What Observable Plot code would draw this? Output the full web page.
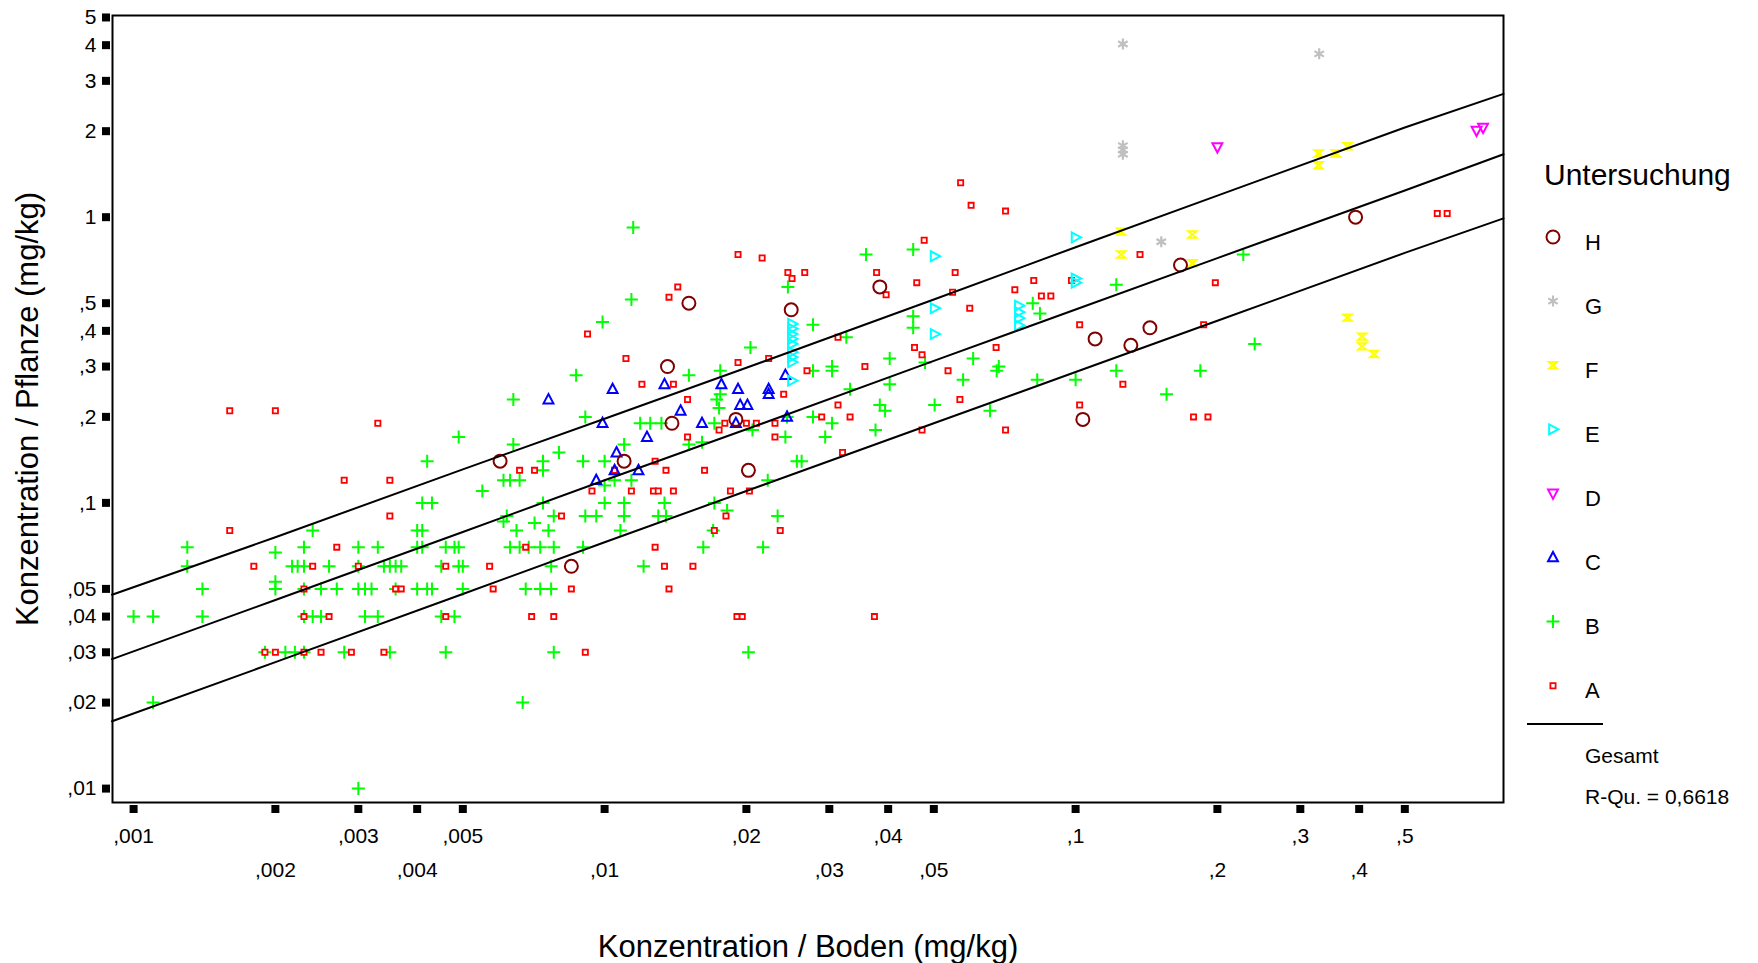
<!DOCTYPE html>
<html><head><meta charset="utf-8">
<script src="https://cdn.jsdelivr.net/npm/d3@7"></script>
<script src="https://cdn.jsdelivr.net/npm/@observablehq/plot@0.6"></script>
<style>
body{margin:0;background:#fff;font-family:"Liberation Sans",Arial,sans-serif;}
#wrap{position:relative;width:1758px;height:963px;overflow:hidden;}
#legend{position:absolute;left:0;top:0;}
</style></head><body><div id="wrap"></div>
<script>
// ---- data (Konzentration Boden [mg/kg], Konzentration Pflanze [mg/kg]) ----
const groupA = [
[0.0016,0.21],[0.002,0.21],[0.0033,0.19],[0.0028,0.12],[0.0035,0.12],[0.0035,0.09],[0.0016,0.08],[0.0027,0.07],[0.0018,0.06],[0.0024,0.06],[0.003,0.06],[0.0046,0.06],[0.0023,0.05],[0.0036,0.05],[0.0037,0.05],[0.0023,0.04],[0.0026,0.04],[0.0046,0.04],[0.0019,0.03],[0.002,0.03],[0.0023,0.03],[0.0025,0.03],[0.0029,0.03],[0.0034,0.03],
[0.012,0.26],[0.014,0.26],[0.015,0.23],[0.024,0.24],[0.018,0.19],[0.0175,0.18],[0.02,0.19],[0.021,0.19],[0.023,0.19],[0.015,0.17],[0.023,0.17],[0.0066,0.13],[0.0071,0.13],[0.0105,0.13],[0.0128,0.14],[0.0135,0.13],[0.0163,0.13],[0.0094,0.11],[0.0114,0.11],[0.0127,0.11],[0.013,0.11],[0.014,0.11],[0.0185,0.11],[0.0203,0.11],[0.0081,0.09],[0.0181,0.09],[0.0171,0.08],[0.0236,0.08],[0.0068,0.07],[0.0128,0.07],[0.0057,0.06],[0.0134,0.06],[0.0154,0.06],[0.0058,0.05],[0.0085,0.05],[0.0137,0.05],[0.007,0.04],[0.0078,0.04],[0.0191,0.04],[0.0196,0.04],[0.0091,0.03],
[0.0192,0.74],[0.0216,0.72],[0.0245,0.64],[0.025,0.61],[0.0143,0.57],[0.0137,0.525],[0.0092,0.39],[0.0111,0.32],[0.0223,0.32],[0.0192,0.31],
[0.057,1.32],[0.06,1.1],[0.071,1.05],[0.0477,0.83],[0.0266,0.64],[0.0378,0.64],[0.0555,0.64],[0.046,0.59],[0.0396,0.535],[0.0548,0.546],[0.0596,0.48],[0.0743,0.557],[0.0815,0.6],[0.0846,0.53],[0.0886,0.53],[0.098,0.6],[0.102,0.42],[0.0313,0.38],[0.0455,0.35],[0.0472,0.33],[0.0678,0.35],[0.0269,0.29],[0.0357,0.3],[0.0536,0.29],[0.0313,0.22],[0.0568,0.23],[0.0289,0.2],[0.0332,0.2],[0.0472,0.18],[0.071,0.18],[0.032,0.15],[0.102,0.22],[0.126,0.26],[0.137,0.74],
[0.0374,0.04],[0.198,0.59],[0.187,0.42],[0.178,0.2],[0.191,0.2],[0.586,1.03],[0.615,1.03]
];
const groupB = [
[0.0049,0.17],[0.0042,0.14],[0.0041,0.1],[0.0043,0.1],[0.0024,0.08],[0.004,0.08],[0.0041,0.08],[0.0013,0.07],[0.002,0.067],[0.0023,0.07],[0.003,0.07],[0.0033,0.07],[0.004,0.07],[0.0041,0.07],[0.0046,0.07],[0.0048,0.07],[0.0049,0.07],
[0.0013,0.06],[0.00217,0.06],[0.00223,0.06],[0.0023,0.06],[0.0026,0.06],[0.003,0.06],[0.0034,0.06],[0.0035,0.06],[0.0036,0.06],[0.0037,0.06],[0.0045,0.06],[0.0049,0.06],
[0.0014,0.05],[0.002,0.053],[0.002,0.05],[0.0023,0.05],[0.0025,0.05],[0.0027,0.05],[0.003,0.05],[0.0031,0.05],[0.0032,0.05],[0.0036,0.05],[0.004,0.05],[0.0042,0.05],[0.0043,0.05],[0.005,0.05],
[0.001,0.04],[0.0011,0.04],[0.0014,0.04],[0.0023,0.04],[0.0024,0.04],[0.0025,0.04],[0.0031,0.04],[0.0033,0.04],[0.0045,0.04],[0.0048,0.04],
[0.0019,0.03],[0.0021,0.03],[0.0022,0.03],[0.0023,0.03],[0.0028,0.03],[0.0035,0.03],[0.0046,0.03],[0.0011,0.02],[0.003,0.01],
[0.0064,0.23],[0.0091,0.2],[0.0064,0.16],[0.011,0.16],[0.008,0.15],[0.0074,0.14],[0.0074,0.13],[0.009,0.14],[0.01,0.14],[0.0061,0.12],[0.0063,0.12],[0.0066,0.12],[0.0055,0.11],[0.01,0.115],[0.0105,0.12],[0.0114,0.12],
[0.0074,0.1],[0.01,0.1],[0.011,0.1],[0.0134,0.1],[0.0171,0.1],
[0.0062,0.09],[0.0061,0.086],[0.0071,0.085],[0.0078,0.09],[0.0091,0.09],[0.0096,0.09],[0.011,0.09],[0.013,0.09],[0.0135,0.09],[0.0182,0.094],[0.0233,0.09],
[0.0065,0.08],[0.0076,0.08],[0.0108,0.08],[0.017,0.08],
[0.0063,0.07],[0.0066,0.07],[0.0069,0.07],[0.0073,0.07],[0.0078,0.07],[0.009,0.07],[0.0162,0.07],[0.0217,0.07],
[0.005,0.06],[0.0077,0.06],[0.0121,0.06],[0.0068,0.05],[0.0073,0.05],[0.0077,0.05],[0.0078,0.03],[0.0202,0.03],[0.0067,0.02],
[0.0176,0.24],[0.0173,0.23],[0.0175,0.215],[0.0171,0.19],[0.0206,0.18],[0.0242,0.17],[0.0151,0.16],[0.0161,0.163],[0.0256,0.14],[0.0119,0.19],[0.0125,0.19],[0.0132,0.19],[0.0222,0.12],
[0.0115,0.92],[0.0245,0.57],[0.0114,0.515],[0.0099,0.43],[0.0204,0.35],[0.0087,0.28],[0.0151,0.28],[0.0176,0.29],
[0.0359,0.74],[0.0452,0.77],[0.0277,0.42],[0.0326,0.38],[0.0452,0.45],[0.0452,0.41],[0.0811,0.5],[0.084,0.46],[0.122,0.58],[0.0277,0.29],[0.0304,0.3],[0.0304,0.29],[0.0403,0.32],[0.0479,0.31],[0.0606,0.32],[0.0687,0.3],[0.068,0.29],[0.0332,0.25],[0.0403,0.26],[0.0577,0.27],[0.0829,0.27],[0.1,0.27],[0.122,0.29],[0.0384,0.22],[0.0394,0.21],[0.0502,0.22],[0.0658,0.21],[0.0277,0.2],[0.0304,0.19],[0.0376,0.18],[0.0294,0.17],[0.0262,0.14],[0.0244,0.2],
[0.227,0.74],[0.24,0.36],[0.184,0.29],[0.156,0.24]
];
const groupC = [[0.0104,0.25],[0.0134,0.26],[0.0177,0.26],[0.0192,0.25],[0.0223,0.25],[0.0223,0.24],[0.0076,0.23],[0.0145,0.21],[0.0194,0.22],[0.0201,0.22],[0.0099,0.19],[0.0161,0.19],[0.019,0.19],[0.0123,0.17],[0.0106,0.15],[0.0096,0.12],[0.0105,0.13],[0.0118,0.13],[0.0244,0.2],[0.0242,0.28]];
const groupD = [[0.2,1.76],[0.71,2.01],[0.733,2.06]];
const groupE = [[0.025,0.423],[0.025,0.407],[0.025,0.39],[0.025,0.375],[0.025,0.36],[0.025,0.337],[0.025,0.324],[0.025,0.311],[0.025,0.268],[0.0502,0.73],[0.0502,0.48],[0.0502,0.39],[0.1,0.85],[0.1,0.61],[0.1,0.59],[0.0758,0.49],[0.0758,0.465],[0.0758,0.443],[0.0758,0.418]];
const groupF = [[0.125,0.89],[0.125,0.74],[0.177,0.87],[0.177,0.69],[0.328,1.67],[0.328,1.52],[0.357,1.67],[0.378,1.77],[0.378,0.445],[0.406,0.382],[0.406,0.353],[0.43,0.332]];
const groupG = [[0.126,4.04],[0.329,3.73],[0.126,1.78],[0.126,1.72],[0.126,1.66],[0.152,0.82]];
const groupH = [[0.0139,0.19],[0.019,0.196],[0.006,0.14],[0.011,0.14],[0.0202,0.13],[0.0085,0.06],[0.0151,0.5],[0.0249,0.474],[0.0136,0.3],[0.0384,0.57],[0.11,0.375],[0.131,0.356],[0.1036,0.196],[0.167,0.68],[0.1438,0.41],[0.393,1.0]];

// regression line ("Gesamt") and prediction band
const fitX     = [0.0009, 0.002, 0.005, 0.01, 0.02, 0.05, 0.1, 0.2, 0.5, 0.81];
const fitMid   = [0.0284, 0.0457, 0.0791, 0.120, 0.181, 0.314, 0.475, 0.719, 1.24, 1.66];
const fitUpper = [0.0477, 0.0758, 0.131, 0.197, 0.297, 0.515, 0.785, 1.19, 2.06, 2.70];
const fitLower = [0.0172, 0.0277, 0.0480, 0.0728, 0.110, 0.190, 0.287, 0.434, 0.750, 0.99];

const yTicks = [0.01,0.02,0.03,0.04,0.05,0.1,0.2,0.3,0.4,0.5,1,2,3,4,5];
const xTicksRow1 = [0.001,0.003,0.005,0.02,0.04,0.1,0.3,0.5];
const xTicksRow2 = [0.002,0.004,0.01,0.03,0.05,0.2,0.4];
const legendKeys = ["H","G","F","E","D","C","B","A"];
const colors = {A:"#ff0000",B:"#00ff00",C:"#0000ff",D:"#ff00ff",E:"#00ffff",F:"#ffff00",G:"#c0c0c0",H:"#800000"};

// ---- symbols ----
const rad = s => Math.sqrt(s/Math.PI);
const symbols = {
  H:{draw(c,s){const r=rad(s);c.moveTo(r,0);c.arc(0,0,r,0,2*Math.PI);c.closePath();}},
  G:{draw(c,s){const r=rad(s);for(const a of [90,30,-30]){const t=a*Math.PI/180;c.moveTo(-r*Math.cos(t),-r*Math.sin(t));c.lineTo(r*Math.cos(t),r*Math.sin(t));}}},
  F:{draw(c,s){const r=rad(s);c.moveTo(-r,-r*0.8);c.lineTo(r,-r*0.8);c.lineTo(-r,r*0.8);c.lineTo(r,r*0.8);c.closePath();}},
  E:{draw(c,s){const r=rad(s);c.moveTo(r,0);c.lineTo(-0.7*r,-0.9*r);c.lineTo(-0.7*r,0.9*r);c.closePath();}},
  D:{draw(c,s){const r=rad(s);c.moveTo(0,r);c.lineTo(0.9*r,-0.7*r);c.lineTo(-0.9*r,-0.7*r);c.closePath();}},
  C:{draw(c,s){const r=rad(s);c.moveTo(0,-r);c.lineTo(0.9*r,0.7*r);c.lineTo(-0.9*r,0.7*r);c.closePath();}},
  B:{draw(c,s){const r=rad(s);c.moveTo(-r,0);c.lineTo(r,0);c.moveTo(0,-r);c.lineTo(0,r);}},
  A:{draw(c,s){const r=rad(s);c.rect(-r,-r,2*r,2*r);}}
};
const style = {
  A:{r:2.6,sw:1.8,fill:"#fff"}, B:{r:6.5,sw:2,fill:"none"}, C:{r:5.5,sw:2,fill:"none"},
  D:{r:5.5,sw:2,fill:"none"}, E:{r:5.5,sw:2,fill:"none"}, F:{r:4,sw:2,fill:"none"},
  G:{r:5.5,sw:2.2,fill:"none"}, H:{r:6.5,sw:2,fill:"none"}
};
const groups = {A:groupA,B:groupB,C:groupC,D:groupD,E:groupE,F:groupF,G:groupG,H:groupH};
const drawOrder = ["B","A","C","D","E","F","G","H"];

const fmt = v => v >= 1 ? String(v) : String(v).replace(/^0\./, ",");
const line = ys => fitX.map((x,i) => ({x, y: ys[i]}));

const font = "'Liberation Sans', Arial, sans-serif";
const chart = Plot.plot({
  width: 1758, height: 963,
  marginLeft: 112, marginRight: 255, marginTop: 15, marginBottom: 161,
  style: {fontFamily: font, background: "#fff", color: "#000"},
  x: {type: "log", domain: [0.000902, 0.81], label: null},
  y: {type: "log", domain: [0.00894, 5.08], label: null},
  marks: [
    ...drawOrder.map(k => Plot.dot(groups[k], {x: d => d[0], y: d => d[1], symbol: symbols[k], r: style[k].r,
        stroke: colors[k], fill: style[k].fill, strokeWidth: style[k].sw})),
    Plot.line(line(fitMid),   {x: "x", y: "y", stroke: "#000", strokeWidth: 2}),
    Plot.line(line(fitUpper), {x: "x", y: "y", stroke: "#000", strokeWidth: 2}),
    Plot.line(line(fitLower), {x: "x", y: "y", stroke: "#000", strokeWidth: 2}),
    Plot.frame({stroke: "#000", strokeWidth: 2}),
    Plot.axisY(yTicks, {anchor: "left", tickSize: 8, strokeWidth: 8, dx: -2, tickPadding: 6, tickFormat: fmt, fontSize: 21, label: null}),
    Plot.axisX([...xTicksRow1, ...xTicksRow2], {anchor: "bottom", tickSize: 8, strokeWidth: 8, dy: 3, tickFormat: () => "", label: null}),
    Plot.axisX(xTicksRow1, {anchor: "bottom", tickSize: 0, tickPadding: 26, tickFormat: fmt, fontSize: 21, label: null}),
    Plot.axisX(xTicksRow2, {anchor: "bottom", tickSize: 0, tickPadding: 60, tickFormat: fmt, fontSize: 21, label: null}),
    Plot.text(["Konzentration / Pflanze (mg/kg)"], {text: d => d, frameAnchor: "left", rotate: -90, dx: -84, textAnchor: "middle", lineAnchor: "middle", fontSize: 31, fill: "#000"}),
    Plot.text(["Konzentration / Boden (mg/kg)"], {text: d => d, frameAnchor: "bottom", dy: 145, textAnchor: "middle", lineAnchor: "middle", fontSize: 31, fill: "#000"})
  ]
});
const wrap = document.getElementById("wrap");
wrap.appendChild(chart);

// ---- legend ----
const leg = d3.select(wrap).append("svg").attr("id","legend").attr("width",1758).attr("height",963)
  .style("font-family", font);
leg.append("text").attr("x",1544).attr("y",174).attr("dy","0.35em").attr("font-size",30).text("Untersuchung");
legendKeys.forEach((k,i) => {
  const sy = 237 + i*64.1;
  leg.append("path").attr("transform",`translate(1553,${sy})`)
    .attr("d", (() => {const p = d3.path(); symbols[k].draw(p, Math.PI*style[k].r*style[k].r); return p.toString();})())
    .attr("stroke", colors[k]).attr("fill", style[k].fill).attr("stroke-width", style[k].sw);
  leg.append("text").attr("x",1585).attr("y",sy+5).attr("dy","0.35em").attr("font-size",22).text(k);
});
leg.append("line").attr("x1",1527).attr("x2",1603).attr("y1",724).attr("y2",724).attr("stroke","#000").attr("stroke-width",2);
leg.append("text").attr("x",1585).attr("y",756).attr("dy","0.35em").attr("font-size",21).text("Gesamt");
leg.append("text").attr("x",1585).attr("y",797).attr("dy","0.35em").attr("font-size",21).text("R-Qu. = 0,6618");
</script></body></html>
